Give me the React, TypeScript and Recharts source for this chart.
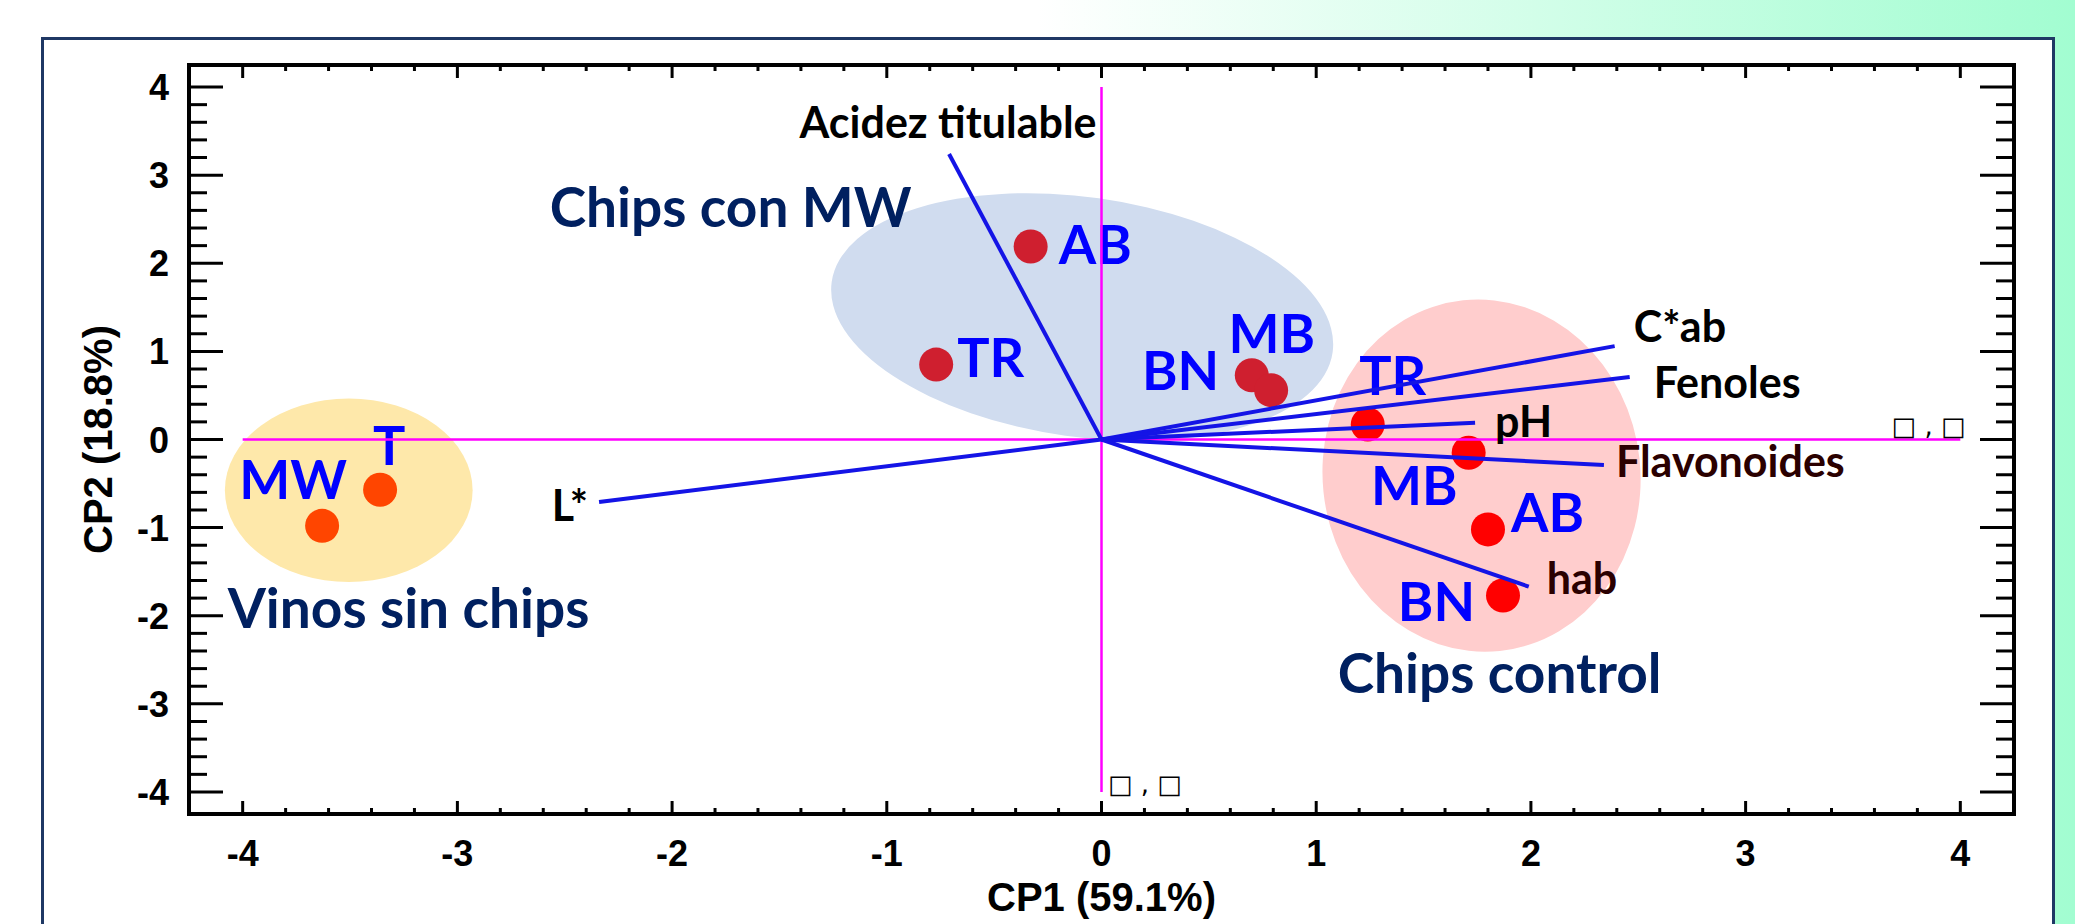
import React from 'react'
import {
  ScatterChart, Scatter, XAxis, YAxis,
  ReferenceLine, ReferenceArea, ReferenceDot
} from 'recharts'

// scores (CP1, CP2)
const sinChips = [
  { name: 'MW', x: -3.63, y: -0.98 },
  { name: 'T', x: -3.36, y: -0.57 }
]
const chipsMW = [
  { name: 'AB', x: -0.33, y: 2.19 },
  { name: 'TR', x: -0.77, y: 0.85 },
  { name: 'MB', x: 0.70, y: 0.73 },
  { name: 'BN', x: 0.79, y: 0.56 }
]
const chipsControl = [
  { name: 'TR', x: 1.24, y: 0.17 },
  { name: 'MB', x: 1.71, y: -0.15 },
  { name: 'AB', x: 1.80, y: -1.02 },
  { name: 'BN', x: 1.87, y: -1.77 }
]

// loadings (vector ends)
const loadings = [
  { name: 'Acidez titulable', x: -0.71, y: 3.24 },
  { name: 'L*', x: -2.34, y: -0.71 },
  { name: 'C*ab', x: 2.39, y: 1.06 },
  { name: 'Fenoles', x: 2.46, y: 0.71 },
  { name: 'pH', x: 1.74, y: 0.19 },
  { name: 'Flavonoides', x: 2.34, y: -0.29 },
  { name: 'hab', x: 1.99, y: -1.67 }
]

// group ellipses and titles
const groups = [
  { name: 'Vinos sin chips', cx: -3.506, cy: -0.576, rx: 0.577, ry: 1.04, tx: -4.07, ty: -2.14 },
  { name: 'Chips con MW', cx: -0.09, cy: 1.39, rx: 1.178, ry: 1.36, tx: -2.57, ty: 2.41 },
  { name: 'Chips control', cx: 1.77, cy: -0.41, rx: 0.74, ry: 2.0, tx: 1.10, ty: -2.88 }
]

const strayMarks = [
  { x: 0.03, y: -4.01 },
  { x: 3.68, y: 0.05 }
]

const DOMAIN: [number, number] = [-4.25, 4.25]
const TICKS = Array.from({ length: 41 }, (_, i) => Math.round((-4 + i * 0.2) * 10) / 10)

// layout / style
const GROUP_STYLE: Record<string, { fill: string; dot: string; angle: number }> = {
  'Vinos sin chips': { fill: '#fee8aa', dot: '#ff4500', angle: 0 },
  'Chips con MW': { fill: '#d0dcef', dot: '#cf1f2f', angle: 8 },
  'Chips control': { fill: '#ffcdcd', dot: '#ff0000', angle: -6 }
}

type Anchor = 'start' | 'middle' | 'end'
const POINT_OFFSETS: Record<string, [number, number, Anchor]> = {
  'Vinos sin chips:MW': [25, -27, 'end'],
  'Vinos sin chips:T': [9, -25, 'middle'],
  'Chips con MW:AB': [28, 17, 'start'],
  'Chips con MW:TR': [21, 12, 'start'],
  'Chips con MW:MB': [20, -22, 'middle'],
  'Chips con MW:BN': [-52, 0, 'end'],
  'Chips control:TR': [25, -30, 'middle'],
  'Chips control:MB': [-11, 52, 'end'],
  'Chips control:AB': [23, 3, 'start'],
  'Chips control:BN': [-28, 26, 'end']
}

const LOADING_OFFSETS: Record<string, [number, number, Anchor, string]> = {
  'Acidez titulable': [-1, -16, 'middle', '#000'],
  'L*': [-11, 19, 'end', '#000'],
  'C*ab': [19, -4, 'start', '#000'],
  'Fenoles': [24, 21, 'start', '#000'],
  'pH': [20, 14, 'start', '#000'],
  'Flavonoides': [12, 12, 'start', '#2a0000'],
  'hab': [18, 7, 'start', '#2a0000']
}

const tickFont = { fontFamily: '"Liberation Sans", Arial, sans-serif', fontWeight: 700, fontSize: 36, fill: '#000' }
const pointFont = { fontFamily: 'Lato, "Open Sans", sans-serif', fontWeight: 700, fontSize: 54, fill: '#0000ff' }
const loadFont = { fontFamily: 'Lato, "Open Sans", sans-serif', fontWeight: 700, fontSize: 43 }
const titleFont = { fontFamily: 'Lato, "Open Sans", sans-serif', fontWeight: 700, fontSize: 55, fill: '#002060' }

const isMajor = (v: number) => Math.abs(v - Math.round(v)) < 1e-6

function BottomTick({ x, y, payload }: any) {
  const major = isMajor(payload.value)
  return (
    <g>
      <line x1={x} x2={x} y1={y} y2={y - (major ? 13 : 6)} stroke="#000" strokeWidth={3} />
      {major && <text x={x} y={y + 52} textAnchor="middle" style={tickFont}>{payload.value}</text>}
    </g>
  )
}
function TopTick({ x, y, payload }: any) {
  const major = isMajor(payload.value)
  return <line x1={x} x2={x} y1={y} y2={y + (major ? 13 : 6)} stroke="#000" strokeWidth={3} />
}
function LeftTick({ x, y, payload }: any) {
  const major = isMajor(payload.value)
  return (
    <g>
      <line x1={x} x2={x + (major ? 34 : 18)} y1={y} y2={y} stroke="#000" strokeWidth={3} />
      {major && <text x={x - 20} y={y + 13} textAnchor="end" style={tickFont}>{payload.value}</text>}
    </g>
  )
}
function RightTick({ x, y, payload }: any) {
  const major = isMajor(payload.value)
  return <line x1={x} x2={x - (major ? 34 : 18)} y1={y} y2={y} stroke="#000" strokeWidth={3} />
}

const dotShape = (group: string) => (p: any) => {
  const [dx, dy, anchor] = POINT_OFFSETS[group + ':' + p.payload.name]
  return (
    <g>
      <circle cx={p.cx} cy={p.cy} r={17} fill={GROUP_STYLE[group].dot} />
      <text x={p.cx + dx} y={p.cy + dy} textAnchor={anchor} style={pointFont}>{p.payload.name}</text>
    </g>
  )
}

const ellipseShape = (group: string) => (p: any) => {
  const cx = p.x + p.width / 2
  const cy = p.y + p.height / 2
  const st = GROUP_STYLE[group]
  return (
    <ellipse cx={cx} cy={cy} rx={Math.abs(p.width) / 2} ry={Math.abs(p.height) / 2}
      fill={st.fill} transform={`rotate(${st.angle} ${cx} ${cy})`} />
  )
}

const axisLine = { stroke: '#000', strokeWidth: 4, strokeLinecap: 'square' as const }

export default function App() {
  return (
    <div style={{ position: 'absolute', left: 0, top: 0, width: 2075, height: 924, overflow: 'hidden',
      background: 'linear-gradient(90deg, #ffffff 0%, #ffffff 50%, #a2fdd1 100%)' }}>
      <div style={{ position: 'absolute', left: 41, top: 37, width: 2008, height: 1000,
        background: '#fff', border: '3px solid #1f3864' }} />
      <div style={{ position: 'absolute', left: 0, top: 0 }}>
        <ScatterChart width={2075} height={924} margin={{ top: 64, right: 60, bottom: 109, left: 188 }}>
          {groups.map(g => (
            <ReferenceArea key={g.name} x1={g.cx - g.rx} x2={g.cx + g.rx} y1={g.cy - g.ry} y2={g.cy + g.ry}
              ifOverflow="visible" shape={ellipseShape(g.name)} zIndex={100} />
          ))}
          <XAxis type="number" dataKey="x" domain={DOMAIN} ticks={TICKS} interval={0} allowDataOverflow
            height={1} tickSize={0} tickMargin={0} tick={<BottomTick />} axisLine={axisLine}
            label={{ content: (p: any) => (
              <text x={p.viewBox.x + p.viewBox.width / 2} y={p.viewBox.y + 97} textAnchor="middle" style={{ ...tickFont, fontSize: 40 }}>CP1 (59.1%)</text>
            ) }} />
          <XAxis xAxisId="top" orientation="top" type="number" dataKey="x" domain={DOMAIN} ticks={TICKS} interval={0}
            allowDataOverflow height={1} tickSize={0} tickMargin={0} tick={<TopTick />} axisLine={axisLine} />
          <YAxis type="number" dataKey="y" domain={DOMAIN} ticks={TICKS} interval={0} allowDataOverflow
            width={1} tickSize={0} tickMargin={0} tick={<LeftTick />} axisLine={axisLine}
            label={{ content: (p: any) => {
              const cx = p.viewBox.x - 76
              const cy = p.viewBox.y + p.viewBox.height / 2
              return <text x={cx} y={cy} textAnchor="middle" transform={`rotate(-90 ${cx} ${cy})`} style={{ ...tickFont, fontSize: 40 }}>CP2 (18.8%)</text>
            } }} />
          <YAxis yAxisId="right" orientation="right" type="number" dataKey="y" domain={DOMAIN} ticks={TICKS} interval={0}
            allowDataOverflow width={1} tickSize={0} tickMargin={0} tick={<RightTick />} axisLine={axisLine} />

          <Scatter data={sinChips} isAnimationActive={false} shape={dotShape('Vinos sin chips')} />
          <Scatter data={chipsMW} isAnimationActive={false} shape={dotShape('Chips con MW')} />
          <Scatter data={chipsControl} isAnimationActive={false} shape={dotShape('Chips control')} />

          <ReferenceLine segment={[{ x: -4, y: 0 }, { x: 4, y: 0 }]} stroke="#ff00ff" strokeWidth={2.5} ifOverflow="visible" zIndex={650} />
          <ReferenceLine segment={[{ x: 0, y: -4 }, { x: 0, y: 4 }]} stroke="#ff00ff" strokeWidth={2.5} ifOverflow="visible" zIndex={650} />

          {loadings.map(l => (
            <ReferenceLine key={l.name} segment={[{ x: 0, y: 0 }, { x: l.x, y: l.y }]}
              stroke="#1414e6" strokeWidth={4} ifOverflow="visible" zIndex={700} />
          ))}
          {loadings.map(l => (
            <ReferenceDot key={'t' + l.name} x={l.x} y={l.y} r={0} ifOverflow="visible" zIndex={800}
              shape={(p: any) => {
                const [dx, dy, anchor, color] = LOADING_OFFSETS[l.name]
                return <text x={p.cx + dx} y={p.cy + dy} textAnchor={anchor} style={{ ...loadFont, fill: color }}>{l.name}</text>
              }} />
          ))}
          {groups.map(g => (
            <ReferenceDot key={'g' + g.name} x={g.tx} y={g.ty} r={0} ifOverflow="visible" zIndex={800}
              shape={(p: any) => <text x={p.cx} y={p.cy} style={titleFont}>{g.name}</text>} />
          ))}
          {strayMarks.map((m, i) => (
            <ReferenceDot key={'s' + i} x={m.x} y={m.y} r={0} ifOverflow="visible" zIndex={800}
              shape={(p: any) => (
                <text x={p.cx} y={p.cy} style={{ fontFamily: '"DejaVu Sans", sans-serif', fontSize: 26, fill: '#000' }}>□ , □</text>
              )} />
          ))}
        </ScatterChart>
      </div>
    </div>
  )
}
